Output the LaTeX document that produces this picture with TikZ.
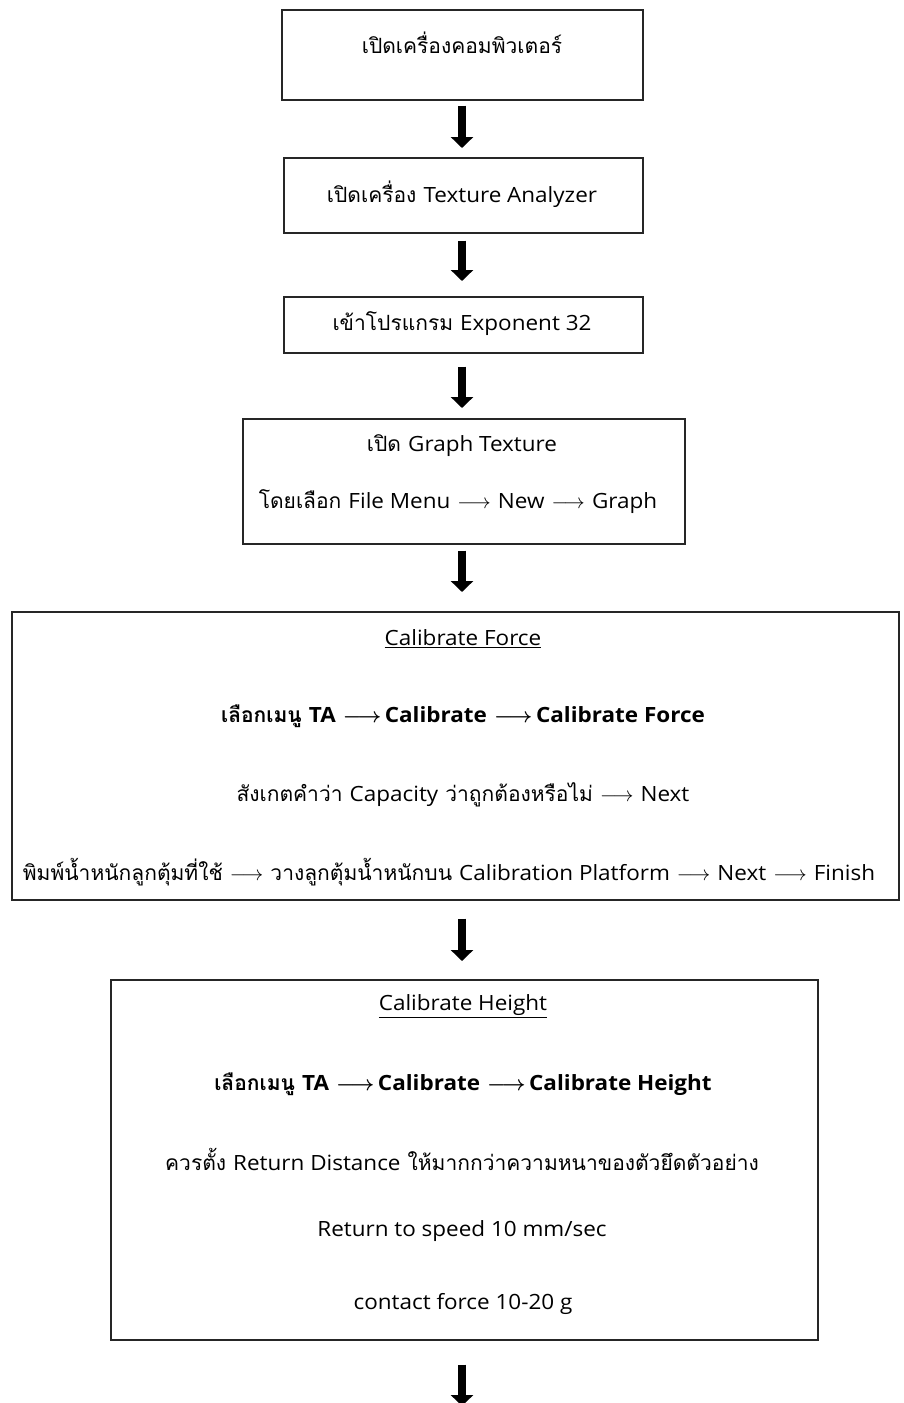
\documentclass[tikz,border=0pt]{standalone}
\usepackage{fontspec}
\setmainfont[Script=Thai]{Loma}
\newfontfamily\englat[FakeStretch=1.07]{Open Sans}
\usetikzlibrary{arrows.meta,calc}
\newcommand{\eng}[1]{{\englat #1}}
\newcommand{\thinra}{\ensuremath{\longrightarrow}}
\newcommand{\boldra}{{\boldmath\ensuremath{\longrightarrow}}}
\begin{document}
\begin{tikzpicture}[x=1pt,y=-1pt,
  box/.style={draw=black!85, line width=1.6pt, inner sep=0pt},
  txt/.style={font=\fontsize{21}{24}\selectfont, inner sep=0pt, anchor=center},
  btxt/.style={font=\fontsize{21}{26}\selectfont\bfseries, inner sep=0pt, anchor=center},
  down/.style={line width=8pt, -{Triangle[width=22pt,length=11pt]}}]
\useasboundingbox (0,0) rectangle (904,1403);
% boxes
\node[box, anchor=north west, minimum width=361pt, minimum height=90pt] (b1) at (281,9) {};
\node[box, anchor=north west, minimum width=359pt, minimum height=75pt] (b2) at (283,157) {};
\node[box, anchor=north west, minimum width=359pt, minimum height=56pt] (b3) at (283,296) {};
\node[box, anchor=north west, minimum width=442pt, minimum height=125pt] (b4) at (242,418) {};
\node[box, anchor=north west, minimum width=887pt, minimum height=288pt] (b5) at (11,611) {};
\node[box, anchor=north west, minimum width=707pt, minimum height=360pt] (b6) at (110,979) {};
% texts
\node[txt] (t1) at (462,43) {เปิดเครื่องคอมพิวเตอร์};
\node[txt] (t2) at (462,194) {เปิดเครื่อง \eng{Texture Analyzer}};
\node[txt] (t3) at (462,324) {เข้าโปรแกรม \eng{Exponent 32}};
\node[txt] (t4a) at (462,446) {เปิด \eng{Graph Texture}};
\node[txt] (t4b) at (458,502) {โดยเลือก \eng{File Menu} \thinra\ \eng{New} \thinra\ \eng{Graph}};
\node[txt] (t5a) at (463,639) {\underline{\eng{Calibrate Force}}};
\node[btxt] (t5b) at (463,716) {เลือกเมนู \eng{TA} \boldra\,\eng{Calibrate} \boldra\,\eng{Calibrate Force}};
\node[txt] (t5c) at (463,795) {สังเกตคำว่า \eng{Capacity} ว่าถูกต้องหรือไม่ \thinra\ \eng{Next}};
\node[txt] (t5d) at (449,872) {พิมพ์น้ำหนักลูกตุ้มที่ใช้ \thinra\ วางลูกตุ้มน้ำหนักบน \eng{Calibration Platform} \thinra\ \eng{Next} \thinra\ \eng{Finish}};
\node[txt] (t6a) at (463,1006) {\underline{\eng{Calibrate Height}}};
\node[btxt] (t6b) at (463,1084) {เลือกเมนู \eng{TA} \boldra\,\eng{Calibrate} \boldra\,\eng{Calibrate Height}};
\node[txt] (t6c) at (462,1159) {ควรตั้ง \eng{Return Distance} ให้มากกว่าความหนาของตัวยึดตัวอย่าง};
\node[txt] (t6d) at (462,1231) {\eng{Return to speed 10 mm/sec}};
\node[txt] (t6e) at (463,1304) {\eng{contact force 10-20 g}};
% arrows
\coordinate (col) at (462,0);
\coordinate (end) at (462,1406);
\draw[down, shorten <=5pt, shorten >=9pt] (col |- b1.south) -- (col |- b2.north);
\draw[down, shorten <=7pt, shorten >=15pt] (col |- b2.south) -- (col |- b3.north);
\draw[down, shorten <=13pt, shorten >=10pt] (col |- b3.south) -- (col |- b4.north);
\draw[down, shorten <=6pt, shorten >=19pt] (col |- b4.south) -- (col |- b5.north);
\draw[down, shorten <=18pt, shorten >=18pt] (col |- b5.south) -- (col |- b6.north);
\draw[down, shorten <=24pt] (col |- b6.south) -- (end);
\end{tikzpicture}
\end{document}
